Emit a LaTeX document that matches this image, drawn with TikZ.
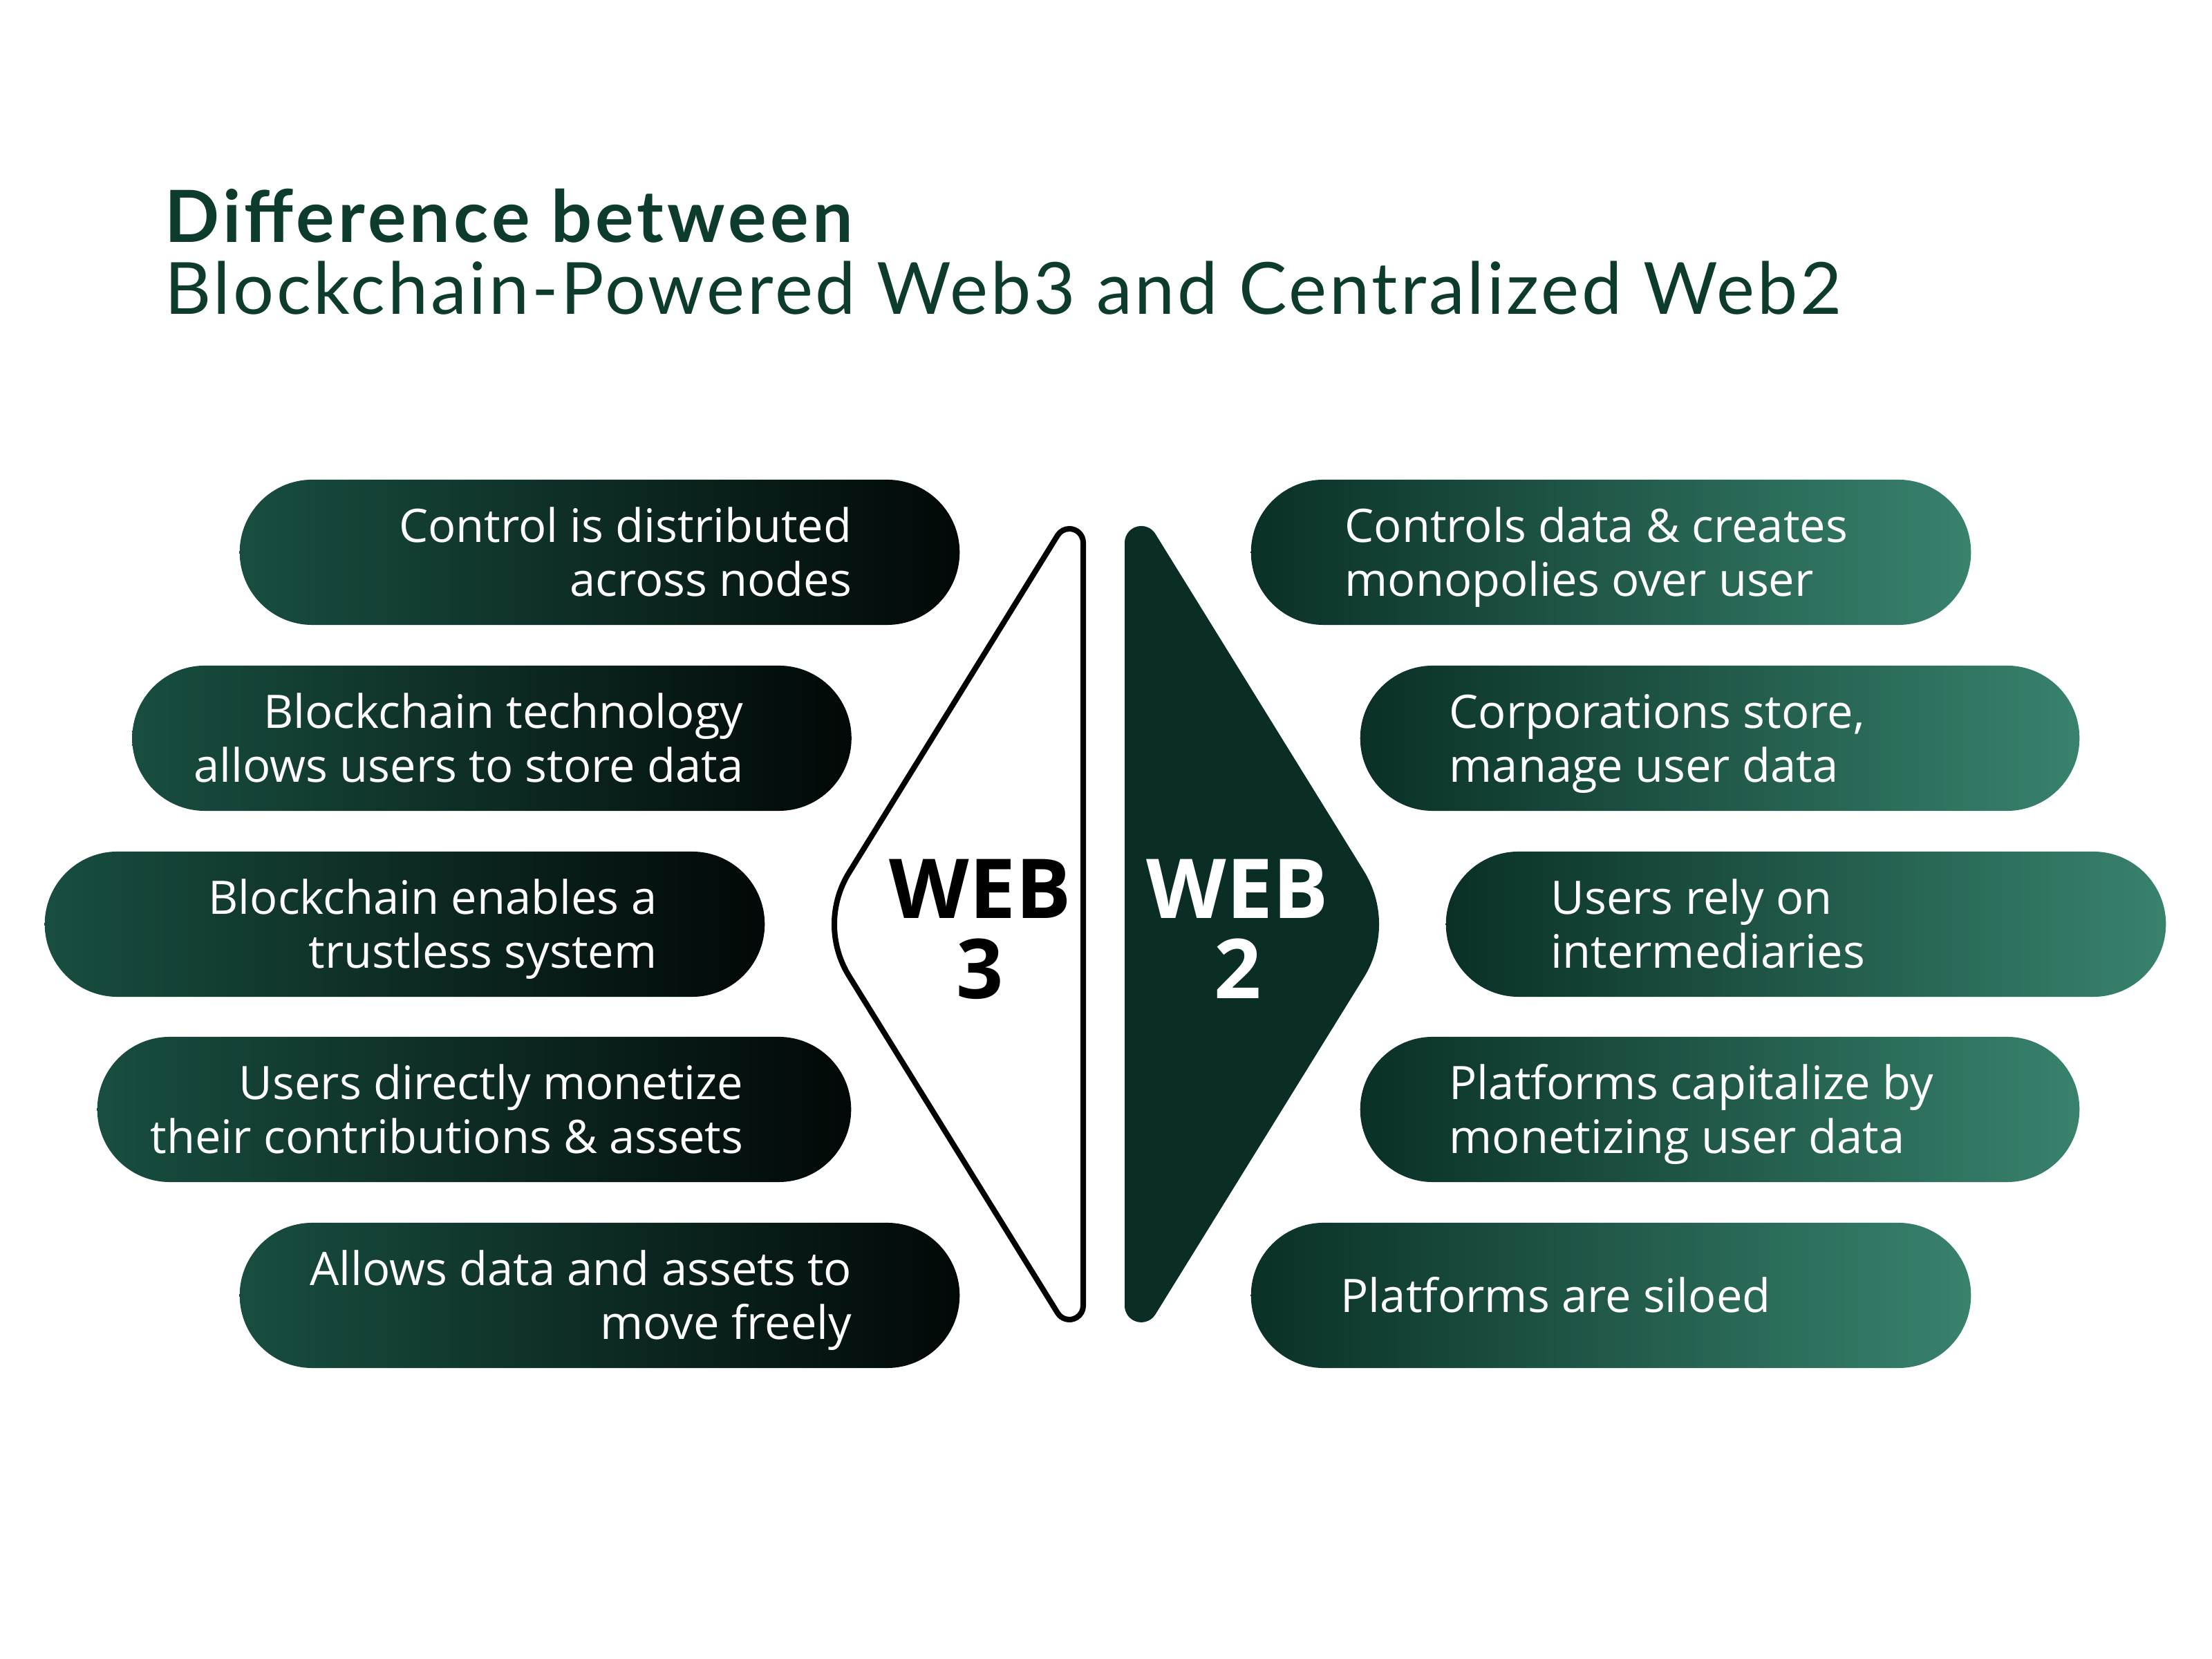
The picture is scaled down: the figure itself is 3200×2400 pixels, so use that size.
\documentclass[tikz,border=0pt]{standalone}
\usepackage{fontspec}
\setmainfont{Open Sans}
\newfontfamily\titlefontwide[LetterSpace=3.7]{Lato}
\newfontfamily\titlefontbold[LetterSpace=5.0]{Lato Bold}
\newcommand\twolines[2]{\strut#1\\\strut#2}
\definecolor{titlegreen}{HTML}{0D3B2E}
\definecolor{pillLa}{HTML}{184E41}
\definecolor{pillLb}{HTML}{020807}
\definecolor{pillRa}{HTML}{0A3027}
\definecolor{pillRb}{HTML}{38826E}
\definecolor{webtwo}{HTML}{0A2E25}
\tikzset{
  pillL/.style={rectangle, rounded corners=1.05cm, minimum height=2.1cm, inner sep=0pt, left color=pillLa, right color=pillLb},
  pillR/.style={rectangle, rounded corners=1.05cm, minimum height=2.1cm, inner sep=0pt, left color=pillRa, right color=pillRb},
  pilltxt/.style={text=white, inner sep=0pt, font=\fontsize{19}{22.2}\selectfont},
  txtL/.style={pilltxt, anchor=east, align=right},
  txtR/.style={pilltxt, anchor=west, align=left},
  webtxt/.style={inner sep=0pt, anchor=base, font=\fontsize{34}{34}\selectfont\bfseries},
  titletxt/.style={inner sep=0pt, anchor=base west, text=titlegreen}
}
\begin{document}
\begin{tikzpicture}[x=0.01cm, y=0.01cm]
\useasboundingbox (0,0) rectangle (3200,2400);
\fill[white] (0,0) rectangle (3200,2400);

% title
\node[titletxt, font=\titlefontbold\fontsize{29.6}{30}\selectfont] (t1) at (238,2049) {Difference between};
\node[titletxt, font=\titlefontwide\fontsize{29.6}{30}\selectfont] (t2) at (238,1945) {Blockchain-Powered Web3 and Centralized Web2};

% left pills
\node[pillL, minimum width=10.41cm] (l1) at (867.5,1601) {};
\node[pillL, minimum width=10.40cm] (l2) at (711.5,1332) {};
\node[pillL, minimum width=10.41cm] (l3) at (585.5,1063) {};
\node[pillL, minimum width=10.90cm] (l4) at (686,795) {};
\node[pillL, minimum width=10.41cm] (l5) at (867.5,526) {};

\node[txtL] (l1t) at (1233,1592) {\twolines{Control is distributed}{across nodes}};
\node[txtL] (l2t) at (1076,1323) {\twolines{Blockchain technology}{allows users to store data}};
\node[txtL] (l3t) at (951,1054) {\twolines{Blockchain enables a}{trustless system}};
\node[txtL] (l4t) at (1076,786) {\twolines{Users directly monetize}{their contributions \& assets}};
\node[txtL] (l5t) at (1233,517) {\twolines{Allows data and assets to}{move freely}};

% right pills
\node[pillR, minimum width=10.41cm] (r1) at (2330.5,1601) {};
\node[pillR, minimum width=10.40cm] (r2) at (2488,1332) {};
\node[pillR, minimum width=10.41cm] (r3) at (2612.5,1063) {};
\node[pillR, minimum width=10.40cm] (r4) at (2488,795) {};
\node[pillR, minimum width=10.41cm] (r5) at (2330.5,526) {};

\node[txtR] (r1t) at (1945,1592) {\twolines{Controls data \& creates}{monopolies over user}};
\node[txtR] (r2t) at (2096,1323) {\twolines{Corporations store,}{manage user data}};
\node[txtR] (r3t) at (2243,1054) {\twolines{Users rely on}{intermediaries}};
\node[txtR] (r4t) at (2096,786) {\twolines{Platforms capitalize by}{monetizing user data}};
\node[txtR] (r5t) at (1939,517) {\strut Platforms are siloed};

% web3 shape (outlined)
\draw[line width=0.08cm, line join=round, fill=white]
  (1567,511) -- (1567,1615)
  arc[start angle=0, end angle=148.2, radius=0.2cm]
  -- (1228.3,1137.7)
  arc[start angle=148.2, end angle=211.8, radius=1.42cm]
  -- (1530,500.5)
  arc[start angle=211.8, end angle=360, radius=0.2cm]
  -- cycle;

% web2 shape (filled)
\fill[webtwo]
  (1627,511) -- (1627,1615)
  arc[start angle=180, end angle=31.8, radius=0.24cm]
  -- (1973.1,1139.9)
  arc[start angle=31.8, end angle=-31.8, radius=1.46cm]
  -- (1671.4,498.4)
  arc[start angle=-31.8, end angle=-180, radius=0.24cm]
  -- cycle;

\node[webtxt, text=black] (w3a) at (1418,1071) {WEB};
\node[webtxt, text=black] (w3b) at (1418,955) {3};
\node[webtxt, text=white] (w2a) at (1790,1071) {WEB};
\node[webtxt, text=white] (w2b) at (1791,955) {2};
\end{tikzpicture}
\end{document}
